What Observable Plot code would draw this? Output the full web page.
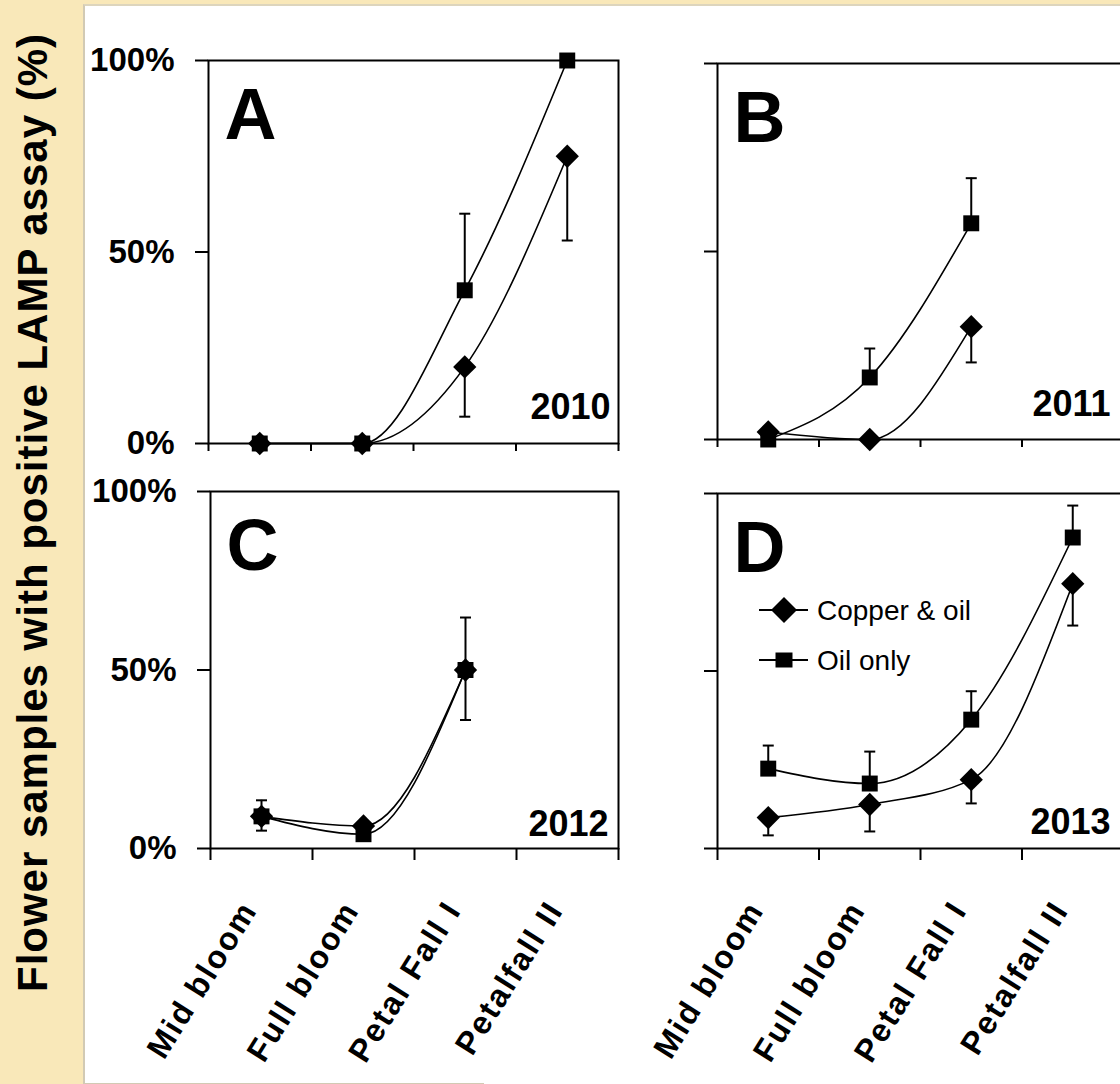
<!DOCTYPE html>
<html><head><meta charset="utf-8">
<script src="https://cdn.jsdelivr.net/npm/d3@7"></script>
<script src="https://cdn.jsdelivr.net/npm/@observablehq/plot@0.6"></script>
<style>
html,body{margin:0;padding:0;background:#F9E8B9;}
#page{position:relative;width:1120px;height:1084px;overflow:hidden;background:#F9E8B9;font-family:Arial,"Liberation Sans",sans-serif;}
#sheet{position:absolute;left:83px;top:4px;width:1050px;height:1077px;background:#fff;border-left:2px solid #d2cab4;border-top:2px solid #ddd5bd;border-bottom:2px solid #d2cab4;}
#sheet2{position:absolute;left:484px;top:1060px;width:640px;height:30px;background:#fff;}
.panel{position:absolute;}
.panel g[aria-label="x-axis tick label"] text{letter-spacing:2px;}
</style></head><body>
<div id="page">
  <div id="sheet"></div><div id="sheet2"></div>
  <svg id="ytitle" width="84" height="1084" style="position:absolute;left:0;top:0;">
    <text transform="translate(47,513) rotate(-90)" text-anchor="middle" font-family="Arial, 'Liberation Sans', sans-serif" font-size="42" font-weight="bold" textLength="958" lengthAdjust="spacing">Flower samples with positive LAMP assay (%)</text>
  </svg>
</div>
<script>
// ---- data ----
const stages = ["Mid bloom", "Full bloom", "Petal Fall I", "Petalfall II"];
const yTicks = [0, 50, 100];
const seriesNames = ["Copper & oil", "Oil only"];
const panelLetters = ["A", "B", "C", "D"];
const panelYears = ["2010", "2011", "2012", "2013"];

// Copper & oil (diamonds, lower error bars) / Oil only (squares, upper error bars)
const copper2010 = [0, 0, 20, 75];
const copperLow2010 = [null, null, 7, 53];
const oil2010 = [0, 0, 40, 100];
const oilHigh2010 = [null, null, 60, null];

const copper2011 = [2, 0, 30, null];
const copperLow2011 = [null, null, 20.5, null];
const oil2011 = [0, 16.5, 57.5, null];
const oilHigh2011 = [null, 24.2, 69.5, null];

const copper2012 = [9, 6.3, 50, null];
const copperLow2012 = [5, null, 36, null];
const oil2012 = [9, 4, 50, null];
const oilHigh2012 = [13.5, null, 64.7, null];

const copper2013 = [8.7, 12.4, 19.4, 74.6];
const copperLow2013 = [3.7, 4.8, 12.7, 62.8];
const oil2013 = [22.5, 18.3, 36.3, 87.6];
const oilHigh2013 = [29, 27.3, 44.3, 96.6];

const panelData = [
  [copper2010, copperLow2010, oil2010, oilHigh2010],
  [copper2011, copperLow2011, oil2011, oilHigh2011],
  [copper2012, copperLow2012, oil2012, oilHigh2012],
  [copper2013, copperLow2013, oil2013, oilHigh2013]
];

// ---- layout (page pixels) ----
const layouts = [
  {left: 84, top: 0, mL: 124, mT: 60, w: 410, h: 383, mR: 20, mB: 20, yLabels: true, xLabels: false, xTick: 8, yearDx: -8, yearDy: -25},
  {left: 660, top: 0, mL: 57, mT: 63, w: 406, h: 376, mR: 10, mB: 20, yLabels: false, xLabels: false, xTick: 8, yearDx: -13, yearDy: -24},
  {left: 84, top: 460, mL: 126, mT: 31, w: 408, h: 357, mR: 20, mB: 236, yLabels: true, xLabels: true, xTick: 12, yearDx: -10, yearDy: -13},
  {left: 660, top: 460, mL: 57, mT: 33, w: 406, h: 355, mR: 10, mB: 236, yLabels: false, xLabels: true, xTick: 12, yearDx: -13, yearDy: -15}
];

const capSymbol = {draw(ctx) { ctx.moveTo(-5.5, 0); ctx.lineTo(5.5, 0); }};
const FONT = "Arial, 'Liberation Sans', sans-serif";

function rowsOf(values, errs, series) {
  return stages.map((s, i) => ({stage: s, x: i + 0.5, v: values[i], e: errs[i], series}))
    .filter(d => d.v != null);
}

const page = document.getElementById("page");

panelData.forEach((pd, k) => {
  const L = layouts[k];
  const [cu, cuLow, oil, oilHigh] = pd;
  const cuRows = rowsOf(cu, cuLow, seriesNames[0]);
  const oilRows = rowsOf(oil, oilHigh, seriesNames[1]);
  const all = cuRows.concat(oilRows);
  const errRows = all.filter(d => d.e != null);
  const chart = Plot.plot({
    width: L.mL + L.w + L.mR,
    height: L.mT + L.h + L.mB,
    marginLeft: L.mL, marginTop: L.mT, marginRight: L.mR, marginBottom: L.mB,
    x: {domain: [0, stages.length], axis: null},
    y: {domain: [0, 100], axis: null},
    style: {background: "transparent", maxWidth: "none", overflow: "visible", fontFamily: FONT, fontSize: "32px", fontWeight: "bold", color: "black"},
    marks: [
      Plot.frame({stroke: "black", strokeWidth: 2}),
      Plot.axisY({ticks: yTicks, label: null, tickSize: 13, tickPadding: 21, strokeWidth: 2, fontSize: 33, tickFormat: L.yLabels ? (d => d + "%") : (() => "")}),
      Plot.axisX({ticks: d3.range(stages.length + 1), label: null, tickSize: L.xTick, tickFormat: () => "", strokeWidth: 2}),
      L.xLabels ? Plot.axisX({ticks: stages.map((s, i) => i + 0.5), label: null, tickSize: 0, tickPadding: 56, tickRotate: -58, dx: -12, tickFormat: v => stages[Math.floor(v)]}) : null,
      Plot.line(all, {x: "x", y: "v", z: "series", curve: "monotone-x", stroke: "black", strokeWidth: 1.6}),
      Plot.ruleX(errRows, {x: "x", y1: "v", y2: "e", stroke: "black", strokeWidth: 2}),
      Plot.dot(errRows, {x: "x", y: "e", symbol: capSymbol, r: 3, stroke: "black", fill: "none", strokeWidth: 2}),
      Plot.dot(oilRows, {x: "x", y: "v", symbol: "square", r: 9, fill: "black", stroke: "none"}),
      Plot.dot(cuRows, {x: "x", y: "v", symbol: "diamond2", r: 10.5, fill: "black", stroke: "none"}),
      Plot.text([panelLetters[k]], {text: d => d, frameAnchor: "top-left", dx: 16, dy: 27, lineAnchor: "top", textAnchor: "start", fontSize: 72, fontWeight: "bold", fill: "black"}),
      Plot.text([panelYears[k]], {text: d => d, frameAnchor: "bottom-right", dx: L.yearDx, dy: L.yearDy, lineAnchor: "bottom", textAnchor: "end", fontSize: 36, fontWeight: "bold", fill: "black"})
    ]
  });
  const div = document.createElement("div");
  div.className = "panel";
  div.style.left = L.left + "px";
  div.style.top = L.top + "px";
  div.appendChild(chart);
  page.appendChild(div);
});

// ---- legend (panel D) ----
const ns = "http://www.w3.org/2000/svg";
const leg = document.createElementNS(ns, "svg");
leg.setAttribute("width", "300");
leg.setAttribute("height", "110");
leg.style.position = "absolute";
leg.style.left = "740px";
leg.style.top = "580px";
const legItems = [
  {name: seriesNames[0], y: 30, shape: "M44,17L57,30L44,43L31,30Z"},
  {name: seriesNames[1], y: 80, shape: "M35.5,72.5h17v15h-17Z"}
];
legItems.forEach(it => {
  const ln = document.createElementNS(ns, "line");
  ln.setAttribute("x1", 19); ln.setAttribute("x2", 68);
  ln.setAttribute("y1", it.y); ln.setAttribute("y2", it.y);
  ln.setAttribute("stroke", "black"); ln.setAttribute("stroke-width", "2");
  leg.appendChild(ln);
  const p = document.createElementNS(ns, "path");
  p.setAttribute("d", it.shape); p.setAttribute("fill", "black");
  leg.appendChild(p);
  const t = document.createElementNS(ns, "text");
  t.setAttribute("x", 77); t.setAttribute("y", it.y + 10);
  t.setAttribute("font-family", FONT); t.setAttribute("font-size", "28");
  t.textContent = it.name;
  leg.appendChild(t);
});
page.appendChild(leg);
</script>
</body></html>
